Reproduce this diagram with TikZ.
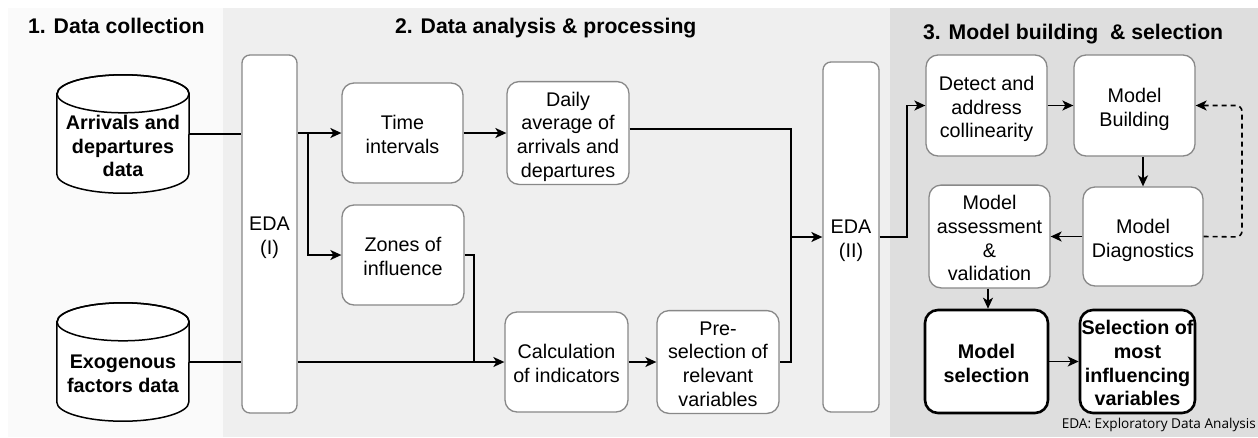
\documentclass[tikz,border=0pt]{standalone}
\usepackage{fontspec}
\setmainfont{Liberation Sans}
\newfontfamily\notefont{Open Sans}
\usetikzlibrary{arrows.meta,calc}
\definecolor{boxgrey}{HTML}{888888}
\definecolor{panelA}{HTML}{FAFAFA}
\definecolor{panelB}{HTML}{EFEFEF}
\definecolor{panelC}{HTML}{DEDEDE}
\newcommand\boxfont{\fontsize{19.75}{23.7}\selectfont}
\newcommand\titlefont{\fontsize{21.2}{25}\selectfont\bfseries}
\newcommand\txtlines[1]{\raisebox{0pt}[\dimexpr\height+8pt\relax][\depth]{\begin{tabular}{@{}c@{}}#1\end{tabular}}}
\begin{document}
\begin{tikzpicture}[x=1pt,y=-1pt,
  box/.style={draw=boxgrey, line width=1.3pt, fill=white, rounded corners=12pt,
    align=center, font=\boxfont, inner sep=0pt},
  edabox/.style={box, rounded corners=8pt},
  boldbox/.style={draw=black, line width=2.6pt, fill=white, rounded corners=13pt,
    align=center, font=\boxfont\bfseries, inner sep=0pt},
  cylnode/.style={inner sep=0pt, minimum width=132pt, minimum height=118pt},
  cylline/.style={draw=black, line width=1.5pt, fill=white},
  cyltext/.style={align=center, font=\boxfont\bfseries, inner sep=0pt},
  title/.style={font=\titlefont, anchor=base west, inner sep=0pt},
  conn/.style={line width=1.6pt, draw=black},
  arr/.style={conn, -{Stealth[length=11pt,width=10pt,inset=3pt]}},
  dasharr/.style={arr, dash pattern=on 5pt off 4pt, rounded corners=6pt}
]
\useasboundingbox (0,0) rectangle (1258,437);
% panels
\fill[white] (0,0) rectangle (1258,437);
\fill[panelA] (8,8) rectangle (223,437);
\fill[panelB] (223,8) rectangle (890,437);
\fill[panelC] (890,8) rectangle (1258,437);

% titles
\node[title] (t1) at (28,33) {1. Data collection};
\node[title] (t2) at (395,33) {2. Data analysis \& processing};
\node[title] (t3) at (923,39) {3. Model building \ \& selection};

% cylinders
\node[cylnode] (cyl1) at (123,134) {};
\path[cylline] ($(cyl1.north west)+(0,19)$) -- ($(cyl1.south west)+(0,-19)$)
  arc[start angle=180,end angle=360,x radius=66pt,y radius=19pt]
  -- ($(cyl1.north east)+(0,19)$)
  arc[start angle=0,end angle=180,x radius=66pt,y radius=19pt] -- cycle;
\draw[line width=1.5pt] ($(cyl1.north)+(0,19)$) ellipse [x radius=66pt, y radius=19pt];
\node[cyltext] (cyl1t) at (123,146) {Arrivals and\\departures\\data};

\node[cylnode] (cyl2) at (123,362) {};
\path[cylline] ($(cyl2.north west)+(0,19)$) -- ($(cyl2.south west)+(0,-19)$)
  arc[start angle=180,end angle=360,x radius=66pt,y radius=19pt]
  -- ($(cyl2.north east)+(0,19)$)
  arc[start angle=0,end angle=180,x radius=66pt,y radius=19pt] -- cycle;
\draw[line width=1.5pt] ($(cyl2.north)+(0,19)$) ellipse [x radius=66pt, y radius=19pt];
\node[cyltext] (cyl2t) at (123,374) {Exogenous\\factors data};

% boxes
\node[edabox, minimum width=55pt, minimum height=358pt] (eda1) at (269.5,234) {\txtlines{EDA\\(I)}};
\node[box, minimum width=121pt, minimum height=100pt] (time) at (402.5,133) {\txtlines{Time\\intervals}};
\node[box, minimum width=122pt, minimum height=100pt] (daily) at (568,133) {\txtlines{Daily\\average of\\arrivals and\\departures}};
\node[box, minimum width=122pt, minimum height=100pt] (zones) at (403,255) {\txtlines{Zones of\\influence}};
\node[box, minimum width=123pt, minimum height=100pt] (calc) at (566.5,362) {\txtlines{Calculation\\of indicators}};
\node[box, minimum width=122pt, minimum height=100pt] (pre) at (718,362) {\txtlines{Pre-\\selection of\\relevant\\variables}};
\node[edabox, minimum width=56pt, minimum height=350pt] (eda2) at (851,237) {\txtlines{EDA\\(II)}};
\node[box, minimum width=121pt, minimum height=101pt] (detect) at (986.5,105.5) {\txtlines{Detect and\\address\\collinearity}};
\node[box, minimum width=121pt, minimum height=101pt] (build) at (1134.5,105.5) {\txtlines{Model\\Building}};
\node[box, minimum width=120pt, minimum height=99pt] (diag) at (1143,236.5) {\txtlines{Model\\Diagnostics}};
\node[box, minimum width=121pt, minimum height=99pt] (assess) at (989.5,236.5) {\txtlines{Model\\assessment\\\&\\validation}};
\node[boldbox, minimum width=123pt, minimum height=103pt] (msel) at (986.5,361.5) {\txtlines{Model\\selection}};
\node[boldbox, minimum width=115pt, minimum height=103pt] (vsel) at (1137.5,361.5) {\txtlines{Selection of\\most\\influencing\\variables}};

% connectors
\draw[conn] (cyl1.east) -- (eda1.west |- cyl1.east);
\draw[arr] (eda1.east |- time.west) -- (time.west);
\coordinate (br1) at (308,133);
\draw[arr] (br1) |- (zones.west);
\draw[conn] (cyl2.east) -- (eda1.west |- cyl2.east);
\draw[arr] (eda1.east |- calc.west) -- (calc.west);
\coordinate (zj) at (474,362);
\draw[conn] (zones.east) -| (zj);
\draw[arr] (time.east) -- (daily.west);
\draw[arr] (calc.east) -- (pre.west);
\coordinate (dj) at (791,129);
\draw[conn] ($(daily.east)+(0,-4)$) -- (dj) -- (dj |- pre.east) -- (pre.east);
\draw[arr] (dj |- eda2.west) -- (eda2.west);
\coordinate (ej) at (907,237);
\draw[arr] (eda2.east |- ej) -- (ej) |- (detect.west);
\draw[arr] (detect.east) -- (build.west);
\draw[arr] (build.south -| diag.north) -- (diag.north);
\draw[arr] (diag.west) -- (assess.east);
\draw[arr] (assess.south -| 988,0) -- (msel.north -| 988,0);
\draw[arr] (msel.east) -- (vsel.west);
\coordinate (fb) at (1242,237);
\draw[dasharr] (diag.east) -- (fb) |- (build.east);

% footnote
\node[anchor=base east, inner sep=0pt, font=\notefont\fontsize{13.6}{16}\selectfont] (note) at (1256,428) {EDA: Exploratory Data Analysis};
\end{tikzpicture}
\end{document}
